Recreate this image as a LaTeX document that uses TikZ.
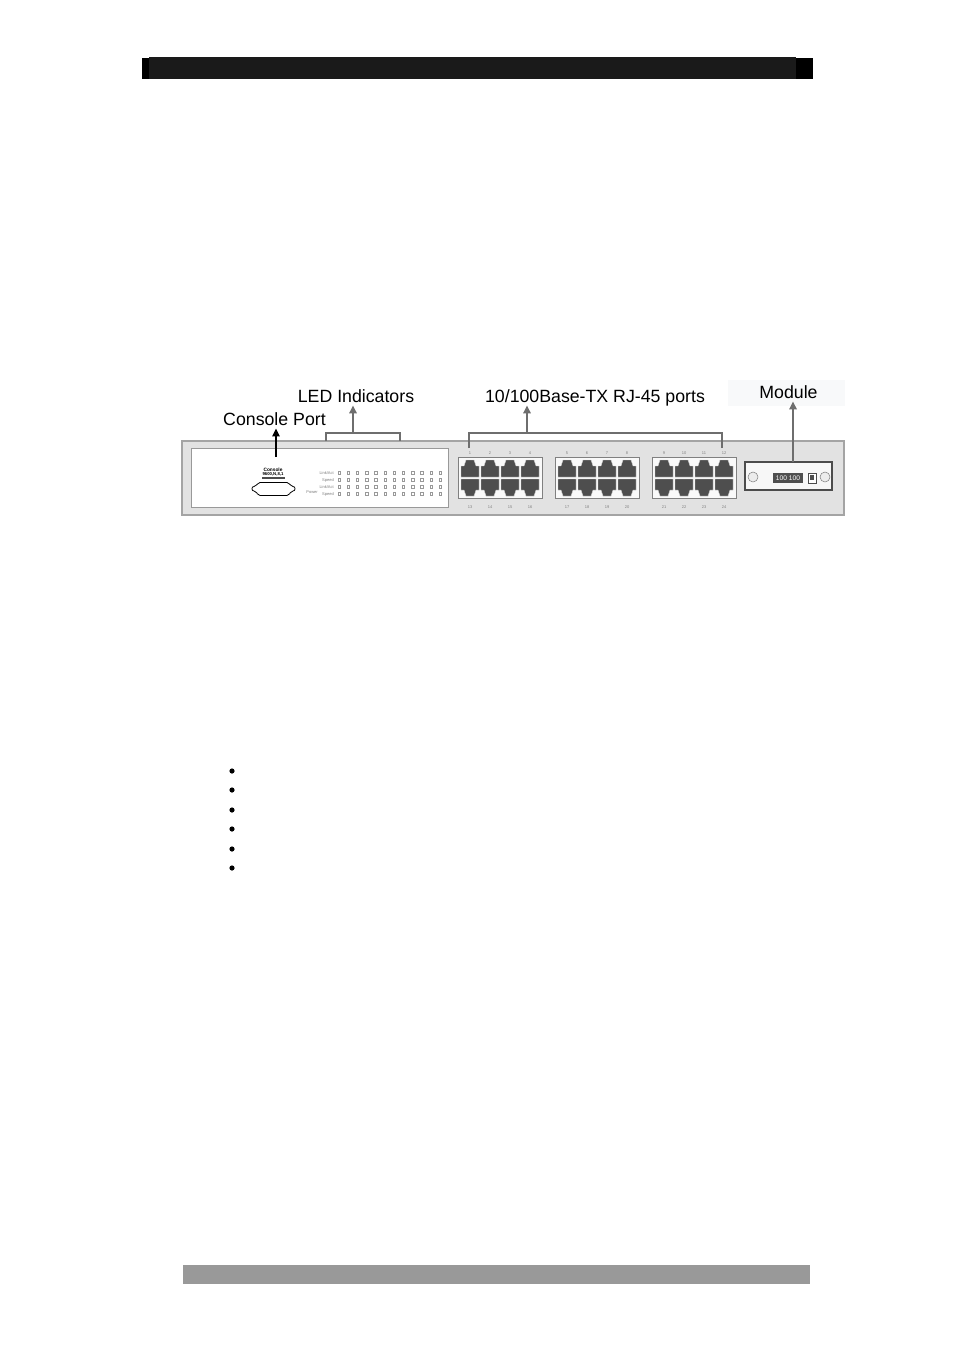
\documentclass[tikz,border=0pt]{standalone}
\usepackage{fontspec}
\setmainfont{Liberation Sans}
\usetikzlibrary{positioning, arrows.meta}
\usepackage{xcolor}
\definecolor{bodygray}{HTML}{E2E2E2}
\definecolor{edgegray}{HTML}{A4A4A4}
\definecolor{portgray}{HTML}{4E4E4E}
\definecolor{arrgray}{HTML}{6E6E6E}
\definecolor{headgray}{HTML}{1A1A1A}
\definecolor{footgray}{HTML}{999999}
\definecolor{modbg}{HTML}{F8F9FA}

\begin{document}
\begin{tikzpicture}[x=0.75pt, y=-0.75pt,
    lbl/.style={font=\fontsize{13.3}{16}\selectfont, text depth=0pt, inner sep=2pt, anchor=base},
    tiny/.style={font=\fontsize{3}{3.6}\selectfont, inner sep=0pt, text=gray},
    arr/.style={-{Triangle[length=6pt,width=5.5pt]}, line width=1.5pt, arrgray},
    brk/.style={line width=1.4pt, arrgray},
    blockbox/.style={fill=white!95!gray, draw=gray, line width=0.5pt},
    port/.style={fill=portgray, draw=white!70!gray, line width=0.3pt},
    led/.style={draw=gray!80, line width=0.3pt}]
  \useasboundingbox[fill=white] (0,0) rectangle (954,1351);

  % page head and foot
  \fill[black] (142,58) rectangle (813,79);
  \fill[headgray] (149,57) rectangle (796,79);
  \fill[footgray] (183,1265) rectangle (810,1284);

  % labels
  \fill[modbg] (728,380) rectangle (845,406);
  \node[lbl] (cport) at (274.5,425.5) {Console Port};
  \node[lbl] (led) at (356,402.5) {LED Indicators};
  \node[lbl] (ports) at (595,402.5) {10/100Base-TX RJ-45 ports};
  \node[lbl] (module) at (788.5,398.5) {Module};

  % switch body
  \draw[fill=bodygray, draw=edgegray, line width=0.8pt] (182,441) rectangle (844,515);
  \draw[fill=white, draw=gray!80, line width=0.6pt] (191,448) rectangle (448,507);

  % console connector
  \node[tiny, text=black, font=\fontsize{3.6}{4}\selectfont\bfseries] (ctext) at (273,469.5) {Console};
  \node[tiny, text=black, font=\fontsize{3.2}{4}\selectfont\bfseries] (cbaud) at (273,474.5) {9600,N,8,1};
  \fill[black!70] (262,477.3) rectangle (285,478.7);
  \draw[fill=white, line width=0.6pt, rounded corners=1.5pt] (252,486.5) -- (256,486.5) -- (258,482.5)
    -- (289,482.5) -- (291,486.5) -- (295,486.5) -- (295,491) -- (291,491) -- (289,495.5)
    -- (258,495.5) -- (256,491) -- (252,491) -- cycle;

  % LED indicators
  \foreach \r/\t in {473/{Link/Act}, 480/Speed, 487/{Link/Act}, 494/Speed} {
    \node[tiny, anchor=east] at (334,\r) {\t};
    \foreach \j in {0,...,11}
      \draw[led] (339+9.2*\j-1.2,\r-1.6) rectangle ++(2.4,3.2);
  }
  \node[tiny, anchor=east] (power) at (318,492) {Power};

  % RJ-45 port blocks
  \foreach \b in {0,1,2} {
    \pgfmathsetmacro\bl{458+97*\b}
    \draw[blockbox] (\bl,457) rectangle ++(84,41);
    \foreach \i in {0,...,3} {
      \pgfmathsetmacro\px{\bl+3+20*\i}
      \pgfmathtruncatemacro\ntop{4*\b+\i+1}
      \pgfmathtruncatemacro\nbot{\ntop+12}
      \path[port, shift={(\px,459)}] (0,18) -- (0,7) -- (3,7) -- (5,1) -- (13,1)
        -- (15,7) -- (18,7) -- (18,18) -- cycle;
      \path[port, shift={(\px,479)}] (0,0) -- (0,11) -- (3,11) -- (5,17) -- (13,17)
        -- (15,11) -- (18,11) -- (18,0) -- cycle;
      \node[tiny] at (\px+9,453) {\ntop};
      \node[tiny] at (\px+9,507) {\nbot};
    }
  }

  % module slot
  \draw[fill=white!94!gray, draw=black!70, line width=0.8pt] (745,462) rectangle (832,490);
  \draw[fill=white!85!gray, draw=gray, line width=0.4pt] (753,477) circle (5);
  \draw[fill=white!85!gray, draw=gray, line width=0.4pt] (825,477) circle (5);
  \node[fill=portgray, text=white, font=\fontsize{5}{6}\selectfont, inner sep=1pt,
        minimum width=22pt, minimum height=8pt] (disp) at (788,478) {100 100};
  \draw[fill=white, draw=black!70, line width=0.6pt] (808,473) rectangle (816,483);
  \fill[portgray] (810,475) rectangle (814,480);

  % brackets and arrows
  \coordinate (cbot) at (276,457);
  \draw[arr, black, line width=1.2pt] (cbot) -- (cbot |- cport.south);

  \coordinate (ll) at (326,441);
  \coordinate (lr) at (400,441);
  \coordinate (lmid) at (353,433);
  \draw[brk] (ll) -- ++(0,-8) -| (lr);
  \draw[arr] (lmid) -- (lmid |- led.south);

  \coordinate (pl) at (469,448);
  \coordinate (pr) at (722,448);
  \coordinate (pmid) at (527,433);
  \draw[brk] (pl) -- ++(0,-15) -| (pr);
  \draw[arr] (pmid) -- (pmid |- ports.south);

  \coordinate (mtop) at (793,462);
  \draw[arr] (mtop) -- (mtop |- module.south);

  % bullets
  \foreach \y in {771,790,810,829,849,868}
    \fill (232,\y) circle (2.6);
\end{tikzpicture}
\end{document}
